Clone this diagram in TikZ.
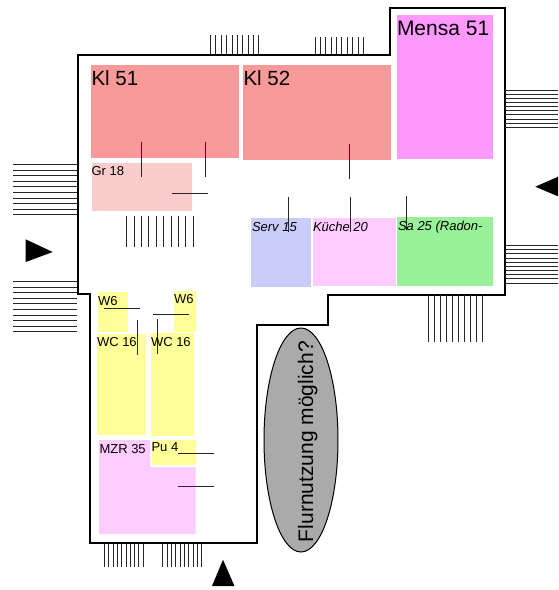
\documentclass[tikz,border=0pt]{standalone}
\usepackage{fontspec}
\setmainfont{Liberation Sans}
\definecolor{klred}{HTML}{F99999}
\definecolor{grpink}{HTML}{FBCCCC}
\definecolor{mensa}{HTML}{FF99FF}
\definecolor{servblue}{HTML}{CACCF9}
\definecolor{lilac}{HTML}{FFCCFF}
\definecolor{sagreen}{HTML}{99F299}
\definecolor{wcyellow}{HTML}{FFFF99}
\definecolor{flur}{HTML}{AAAAAA}
\tikzset{
  fine/.style={line width=0.9pt,black!85},
  wall/.style={line width=2pt,black,line join=miter},
  lbl/.style={anchor=base west,inner sep=0pt,outer sep=0pt},
  big/.style={lbl,font=\fontsize{20.5}{24}\selectfont},
  small/.style={lbl,font=\fontsize{13}{15}\selectfont},
  ital/.style={lbl,font=\fontsize{13}{15}\selectfont\itshape},
}
\begin{document}
\begin{tikzpicture}[x=1pt,y=-1pt]
\useasboundingbox (0,0) rectangle (558,590);
\clip (0,0) rectangle (558,590);
% rooms
\fill[klred] (91,65) rectangle (239,158);
\fill[klred] (243,65) rectangle (391,160);
\fill[mensa] (397,15) rectangle (493,159);
\fill[grpink] (92,163) rectangle (192,211);
\fill[servblue] (251,218) rectangle (311,287);
\fill[lilac] (313,218) rectangle (396,286);
\fill[sagreen] (397,217) rectangle (493,286);
\fill[wcyellow] (98,292) rectangle (128,332);
\fill[wcyellow] (174,291) rectangle (195.5,332);
\fill[wcyellow] (97,334) rectangle (146,435);
\fill[wcyellow] (151,333) rectangle (193.5,436);
\fill[lilac] (99,440) -- (150,440) -- (150,467) -- (195.5,467) -- (195.5,534) -- (99,534) -- cycle;
\fill[wcyellow] (152,440) rectangle (196,465);
% outline
\draw[wall] (78,54.5) -- (390,54.5) -- (390,7.5) -- (504.5,7.5) -- (504.5,294.5) -- (328,294.5) -- (328,325) -- (256.5,325) -- (256.5,543) -- (89.5,543) -- (89.5,294) -- (78,294) -- cycle;
% ellipse
\draw[fill=flur,line width=1pt] (301,440) ellipse [x radius=37,y radius=112];
% window hatchings
\foreach \i in {0,...,9} {
  \draw[fine] ({210.5+5.37*\i},35) -- ++(0,19);
  \draw[fine] ({315+5.37*\i},37) -- ++(0,17);
  \draw[fine] (13,{164.5+5.6*\i}) -- (77,{164.5+5.6*\i});
  \draw[fine] (13,{281.5+5.6*\i}) -- (77,{281.5+5.6*\i});
  \draw[fine] ({126.7+7.4*\i},216) -- ++(0,31);
  \draw[fine] ({428.7+5.95*\i},295) -- ++(0,47);
  \draw[fine] ({104.3+4.33*\i},544) -- ++(0,23);
  \draw[fine] ({162.7+4.33*\i},544) -- ++(0,23);
  \draw[fine] (505,{90+4.15*\i}) -- (558,{90+4.15*\i});
  \draw[fine] (505,{245.5+4.17*\i}) -- (558,{245.5+4.17*\i});
}
% short door marks
\foreach \a/\b/\c in {141.7/142/176.5, 205/142/176.5, 349.3/144/178.5, 288/197/232, 350.7/197/232, 406.7/195.5/230, 137/320/355, 157/319/354}
  \draw[fine] (\a,\b) -- (\a,\c);
\foreach \a/\b/\c in {193.3/171.7/207.5, 308.7/104/140, 314.7/153/189, 453/178.3/214, 486/178.3/214}
  \draw[fine] (\b,\a) -- (\c,\a);
% arrows
\fill[black] (25.7,239.3) -- (52.7,252) -- (25.7,262) -- cycle;
\fill[black] (535.3,186.7) -- (562,175) -- (562,198) -- cycle;
\fill[black] (212,586) -- (223,559.7) -- (234.5,586) -- cycle;
% labels
\node[big] (kl51) at (91.5,85) {Kl 51};
\node[big] (kl52) at (243.5,85) {Kl 52};
\node[big,font=\fontsize{21}{24}\selectfont] (mensa51) at (397,35) {Mensa 51};
\node[small] (gr18) at (91.5,175) {Gr 18};
\node[ital] (serv) at (252,231) {Serv 15};
\node[ital] (kueche) at (313,231) {Küche 20};
\node[ital] (sa) at (398,230) {Sa 25 (Radon-};
\node[small] (w6a) at (98,305) {W6};
\node[small] (w6b) at (174,303.5) {W6};
\node[small] (wca) at (97,346) {WC 16};
\node[small] (wcb) at (151,346) {WC 16};
\node[small] (mzr) at (99.5,453) {MZR 35};
\node[small] (pu) at (151.5,451.5) {Pu 4};
\node[lbl,rotate=90,font=\fontsize{21}{24}\selectfont] (flurtext) at (313,542) {Flurnutzung möglich?};
\end{tikzpicture}
\end{document}
